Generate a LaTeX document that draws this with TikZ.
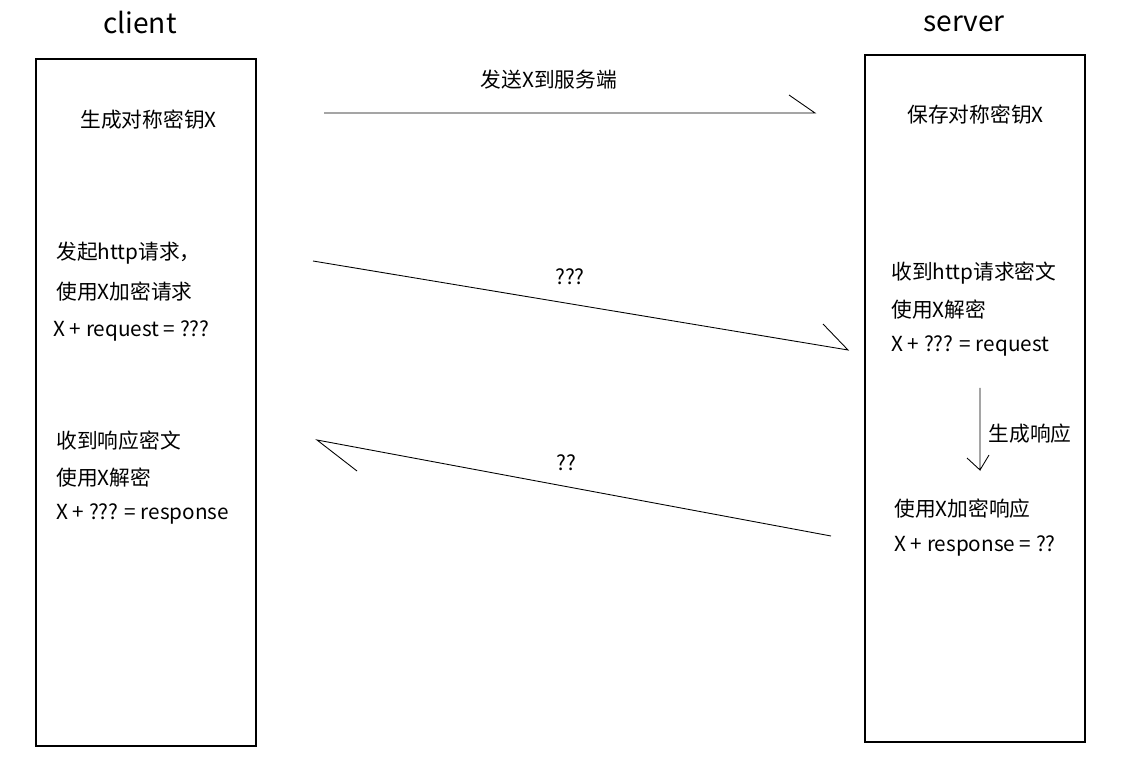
\documentclass[tikz,border=0pt]{standalone}
\usepackage{fontspec}
\setmainfont{Noto Sans CJK SC}
\usetikzlibrary{positioning}
\tikzset{
  lbl/.style={anchor=west, inner sep=0pt, font=\fontsize{11.8}{13}\selectfont},
  title/.style={inner sep=0pt, font=\fontsize{16}{18}\selectfont},
  side/.style={draw, line width=1.2pt},
  msg/.style={line width=0.5pt}
}
\begin{document}
\begin{tikzpicture}[x=0.02cm, y=-0.02cm]
  \useasboundingbox (0,0) rectangle (1129,763);
  % boxes
  \draw[side] (36,59) rectangle (256,746);
  \draw[side] (865,55) rectangle (1085,742);
  \node[title] (client) at (140,22) {client};
  \node[title] (server) at (964,24) {server};
  % client texts
  \node[lbl] (genkey) at (80,120) {生成对称密钥X};
  \node[lbl] (req1) at (56,253) {发起http请求，};
  \node[lbl] (req2) at (56,292) {使用X加密请求};
  \node[lbl] (req3) at (53,331) {X + request = ???};
  \node[lbl] (resp1) at (56,441) {收到响应密文};
  \node[lbl] (resp2) at (56,478) {使用X解密};
  \node[lbl] (resp3) at (56,514) {X + ??? = response};
  % server texts
  \node[lbl] (savekey) at (907,115) {保存对称密钥X};
  \node[lbl] (sreq1) at (891,273) {收到http请求密文};
  \node[lbl] (sreq2) at (891,310) {使用X解密};
  \node[lbl] (sreq3) at (891,346) {X + ??? = request};
  \node[lbl] (sresp1) at (894,509) {使用X加密响应};
  \node[lbl] (sresp2) at (894,546) {X + response = ??};
  % messages
  \coordinate (a1) at (324,113); \coordinate (b1) at (815,113);
  \coordinate (a2) at (313,261); \coordinate (b2) at (848,350);
  \coordinate (a3) at (831,536); \coordinate (b3) at (317,440);
  \coordinate (a4) at (980,388); \coordinate (b4) at (980,470);
  \draw[msg] (a1) -- (b1) -- ++(-26,-18);
  \draw[msg] (a2) -- (b2) -- ++(-25,-26);
  \draw[msg] (a3) -- (b3) -- ++(40,31);
  \draw[msg] (a4) -- (b4) -- ++(-13,-12) (b4) -- ++(9,-15);
  \node[lbl, anchor=center] (send) at (549,80) {发送X到服务端};
  \node[lbl, anchor=center] (q3) at (570,277) {???};
  \node[lbl, anchor=center] (q2) at (566,463) {??};
  \node[lbl, anchor=center] (gen) at (1030,434) {生成响应};
\end{tikzpicture}
\end{document}
